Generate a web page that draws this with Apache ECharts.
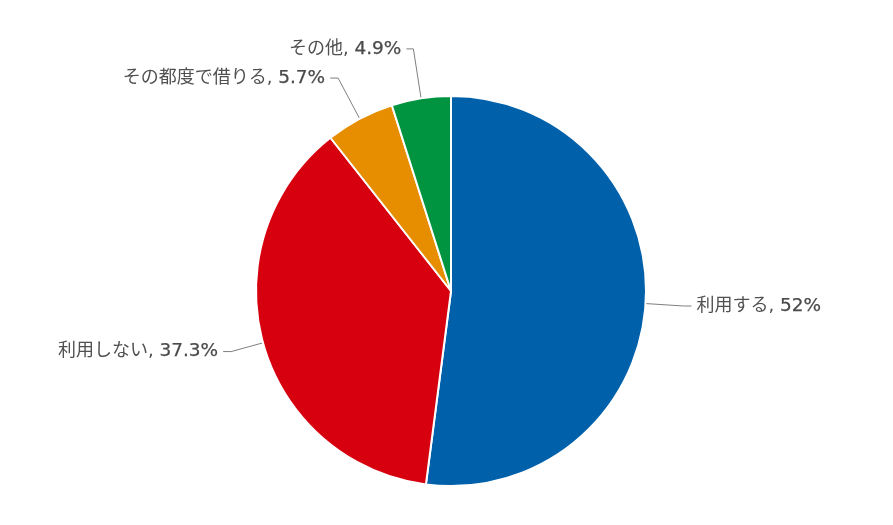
<!DOCTYPE html>
<html>
<head>
<meta charset="utf-8">
<script src="https://cdn.jsdelivr.net/npm/echarts@6/dist/echarts.min.js"></script>
<style>html,body{margin:0;padding:0;background:#fff}#c{width:893px;height:525px}</style>
</head>
<body>
<div id="c"></div>
<script>
const categories = ['利用する', '利用しない', 'その都度で借りる', 'その他'];
const values = [52, 37.3, 5.7, 4.9];
const colors = ['#0060AA', '#D7000F', '#E68E00', '#009440'];

const chart = echarts.init(document.getElementById('c'));
const lineLens = [[38, 8], [33, 8], [46, 8], [50, 7]];
chart.setOption({
  animation: false,
  series: [{
    type: 'pie',
    center: [451, 291],
    radius: [0, 195],
    startAngle: 90,
    clockwise: true,
    avoidLabelOverlap: false,
    itemStyle: { borderColor: '#ffffff', borderWidth: 2 },
    label: {
      show: true,
      formatter: p => '{n|' + p.name + ', }{v|' + p.value + '%}',
      rich: {
        n: { fontFamily: '"DejaVu Sans", "Noto Sans CJK JP", sans-serif', fontSize: 18, color: '#505050' },
        v: { fontFamily: '"DejaVu Sans", sans-serif', fontSize: 18.5, color: '#4a4a4a', textBorderColor: '#4a4a4a', textBorderWidth: 0.25 }
      }
    },
    labelLine: { lineStyle: { color: '#7f7f7f', width: 1 } },
    data: categories.map((c, i) => ({
      name: c,
      value: values[i],
      itemStyle: { color: colors[i] },
      labelLine: { length: lineLens[i][0], length2: lineLens[i][1] }
    }))
  }]
});
</script>
</body>
</html>
